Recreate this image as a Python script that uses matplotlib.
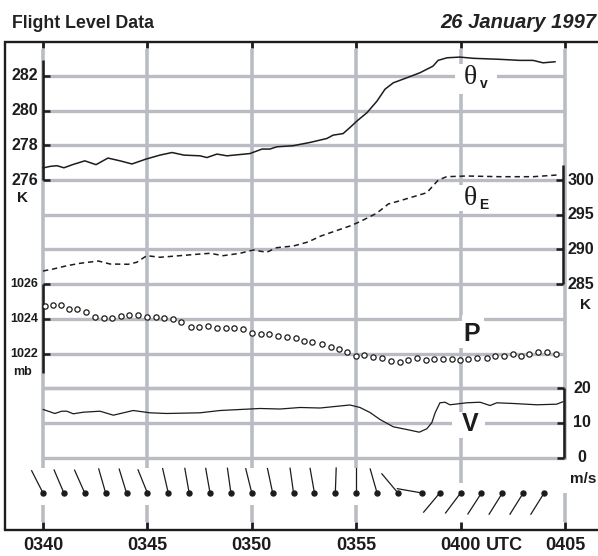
import numpy as np
import matplotlib
matplotlib.use("Agg")
import matplotlib.pyplot as plt
from matplotlib.patches import Rectangle

# ---------------------------------------------------------------- data (minutes after 0340 UTC)
tv_t = [0, 0.34, 0.67, 1.0, 1.44, 2.0, 2.54, 3.11, 3.69, 4.26, 4.93, 5.6, 6.18, 6.75, 7.52,
        7.85, 8.33, 8.81, 9.91, 10.49, 10.87, 11.2, 11.97, 12.79, 13.6, 13.89, 14.37, 14.7,
        15.04, 15.52, 16.0, 16.38, 16.78, 17.43, 18.06, 18.68, 18.92, 19.35, 19.97, 20.6,
        21.89, 22.85, 23.47, 23.95, 24.52]
theta_v = [276.70, 276.79, 276.83, 276.71, 276.90, 277.11, 276.89, 277.27, 277.11, 276.93,
           277.21, 277.44, 277.59, 277.44, 277.40, 277.30, 277.50, 277.40, 277.53, 277.79,
           277.79, 277.92, 277.98, 278.17, 278.40, 278.59, 278.68, 279.03, 279.41, 279.89,
           280.56, 281.24, 281.61, 281.90, 282.19, 282.57, 282.90, 283.05, 283.09, 283.02,
           282.96, 282.90, 282.90, 282.76, 282.82]

te_t = [0, 0.49, 1.14, 1.77, 2.65, 3.21, 4.08, 4.49, 4.97, 5.60, 6.56, 7.52, 8.0, 8.63, 9.43,
        10.07, 10.71, 11.19, 11.99, 12.71, 13.27, 13.9, 14.7, 15.18, 15.98, 16.54, 17.1,
        18.38, 18.93, 19.33, 20.29, 21.89, 23.48, 24.6]
theta_e = [286.90, 287.19, 287.66, 288.01, 288.34, 287.91, 287.87, 288.16, 289.11, 288.88,
           289.11, 289.35, 289.45, 289.11, 289.45, 289.93, 289.60, 290.26, 290.5, 291.1,
           291.9, 292.56, 293.39, 294.01, 295.22, 296.56, 297.03, 298.18, 300.01, 300.49,
           300.59, 300.49, 300.49, 300.73]

p_t = [0.10, 0.46, 0.85, 1.25, 1.64, 2.04, 2.49, 2.92, 3.32, 3.74, 4.13, 4.57, 5.0, 5.41,
       5.81, 6.21, 6.61, 7.09, 7.49, 7.92, 8.35, 8.75, 9.16, 9.56, 10.0, 10.43, 10.84, 11.26,
       11.68, 12.1, 12.51, 12.9, 13.35, 13.78, 14.18, 14.57, 14.99, 15.39, 15.82, 16.25,
       16.67, 17.1, 17.49, 17.9, 18.33, 18.74, 19.14, 19.57, 19.97, 20.37, 20.77, 21.25,
       21.65, 22.08, 22.49, 22.89, 23.29, 23.71, 24.14, 24.57]
pres = [1024.74, 1024.80, 1024.80, 1024.57, 1024.57, 1024.42, 1024.13, 1024.07, 1024.07,
        1024.18, 1024.22, 1024.22, 1024.13, 1024.13, 1024.07, 1023.98, 1023.80, 1023.52,
        1023.55, 1023.61, 1023.46, 1023.46, 1023.46, 1023.40, 1023.20, 1023.11, 1023.11,
        1023.03, 1022.97, 1022.92, 1022.74, 1022.65, 1022.55, 1022.40, 1022.25, 1022.07,
        1021.88, 1021.92, 1021.82, 1021.76, 1021.57, 1021.53, 1021.63, 1021.73, 1021.63,
        1021.69, 1021.69, 1021.67, 1021.63, 1021.69, 1021.73, 1021.76, 1021.86, 1021.86,
        1021.96, 1021.88, 1021.98, 1022.11, 1022.11, 1021.98]

v_t = [0.01, 0.57, 0.90, 1.14, 1.45, 1.93, 2.73, 3.37, 4.32, 5.12, 5.92, 7.52, 8.48, 9.43,
       10.39, 11.35, 12.31, 13.27, 14.22, 14.70, 15.18, 15.66, 16.14, 16.78, 17.42, 18.02,
       18.38, 18.62, 18.78, 19.01, 19.25, 19.49, 20.29, 20.93, 21.41, 21.73, 22.53, 23.65,
       24.60, 24.89]
speed = [13.89, 12.74, 13.40, 13.40, 12.65, 13.11, 13.40, 12.25, 13.60, 12.94, 12.74, 12.94,
         13.60, 13.89, 14.18, 14.03, 14.47, 14.32, 14.90, 15.19, 14.47, 13.03, 11.01, 8.90,
         8.13, 7.35, 8.33, 10.06, 12.94, 15.82, 15.99, 15.25, 15.82, 15.99, 15.04, 15.82,
         15.62, 15.25, 15.42, 16.11]

# wind direction (deg, from) once a minute
barb_t = [0, 1, 2, 3, 4, 5, 6, 7, 8, 9, 10, 11, 12, 13, 14, 15, 16, 17, 18.15, 19, 20, 21,
          22, 23, 24]
barb_dir = [333, 337, 336, 344, 343, 338, 347, 350, 350, 352, 346, 348, 352, 350, 2, 0, 344,
            320, 280, 220, 217, 213, 212, 212, 212]

time_ticks = [0, 5, 10, 15, 20, 25]
time_labels = ["0340", "0345", "0350", "0355", "0400", "0405"]
tv_ticks = [282, 280, 278, 276]
te_ticks = [300, 295, 290, 285]
p_ticks = [1026, 1024, 1022]
v_ticks = [20, 10, 0]

# ---------------------------------------------------------------- layout
W, H = 598, 556
PPM, PPG = 20.88, 34.7      # px per minute, px per grid row
X0, Y0 = 43, 76             # 0340 line, top grid row
GRAY = "#b9bdc3"
INK = "#1c1c1c"
SANS = "Liberation Sans"


def px(x):
    return (x - X0) / PPM


def py(y):
    return (y - Y0) / PPG


# value at grid row r0, step per row (one stacked panel each)
PANELS = {"tv": (282, 2, 0), "te": (300, 5, 3), "p": (1026, 2, 6), "v": (20, 10, 9)}


def row(key, val):
    vtop, step, r0 = PANELS[key]
    return r0 + (vtop - val) / step


fig = plt.figure(figsize=(W / 100, H / 100), dpi=100)
ax = fig.add_axes([0, 0, 1, 1])
ax.set_xlim(px(0), px(W))
ax.set_ylim(py(H), py(0))
ax.axis("off")

# ---------------------------------------------------------------- grid
rows = sorted({row("tv", v) for v in tv_ticks} | {row("te", v) for v in te_ticks}
              | {row("p", v) for v in p_ticks} | {row("v", v) for v in v_ticks})
for r in rows + [row("p", 1022) + 1]:
    ax.plot([0, 25], [r, r], color=GRAY, lw=2.4, solid_capstyle="butt", zorder=1)

vsegs = {0: [(49, 468), (505, 522)], 5: [(49, 468), (505, 522)], 10: [(49, 468), (505, 522)],
         15: [(49, 468), (505, 522)], 20: [(49, 483)], 25: [(49, 460), (493, 522)]}
for t in time_ticks:
    for a, b in vsegs[t]:
        ax.plot([t, t], [py(a), py(b)], color=GRAY, lw=2.6, solid_capstyle="butt", zorder=1)
    ax.plot([t, t], [py(42), py(48)], color=INK, lw=2, solid_capstyle="butt", zorder=4)
    ax.plot([t, t], [py(522), py(530)], color=INK, lw=2, solid_capstyle="butt", zorder=4)

# frame
ax.plot([px(598), px(4.5), px(4.5), px(598)], [py(42), py(42), py(530), py(530)],
        color=INK, lw=1.7, solid_joinstyle="miter", zorder=4)

# ---------------------------------------------------------------- label gaps (white)
for x0, x1, y0, y1 in [(455, 497, 64, 94), (456, 492, 185, 211), (457, 485, 321, 348),
                       (462, 484, 315, 323), (452, 485, 412, 438)]:
    ax.add_patch(Rectangle((px(x0), py(y0)), px(x1) - px(x0), py(y1) - py(y0),
                           facecolor="white", edgecolor="none", zorder=2))

# ---------------------------------------------------------------- panel axes lines + ticks
def spine(x, ya, yb, ticks, key, side):
    ax.plot([x, x], [ya, yb], color=INK, lw=1.8, solid_capstyle="butt", zorder=4)
    for v in ticks:
        r = row(key, v)
        ax.plot([x, x + side * 7 / PPM], [r, r], color=INK, lw=1.8,
                solid_capstyle="butt", zorder=4)


spine(0, py(60), row("tv", 276), tv_ticks, "tv", 1)
spine(px(563), py(165), row("te", 285), te_ticks, "te", -1)
spine(0, row("p", 1026), py(373), p_ticks, "p", 1)
spine(px(564), row("v", 20), row("v", 0), v_ticks, "v", -1)

tk = dict(color=INK, fontfamily=SANS, fontweight="bold", zorder=5)
for v in tv_ticks:
    ax.text(px(38), row("tv", v), str(v), ha="right", va="center", fontsize=11.5, **tk)
ax.text(px(23), py(198), "K", ha="center", va="center", fontsize=11, **tk)
for v in p_ticks:
    ax.text(px(38), row("p", v), str(v), ha="right", va="center", fontsize=9, **tk)
ax.text(px(23), py(372), "mb", ha="center", va="center", fontsize=9, **tk)
for v in te_ticks:
    ax.text(px(568), row("te", v), str(v), ha="left", va="center", fontsize=11.5, **tk)
ax.text(px(586), py(305), "K", ha="center", va="center", fontsize=11, **tk)
for v in v_ticks:
    ax.text(px(582), row("v", v), str(v), ha="center", va="center", fontsize=11.5, **tk)
ax.text(px(583), py(479), "m/s", ha="center", va="center", fontsize=11, **tk)

for t, lab in zip(time_ticks, time_labels):
    ax.text(t, py(546), lab, ha="center", va="center", fontsize=13, **tk)
ax.text(px(486), py(546), "UTC", ha="left", va="center", fontsize=13, **tk)

# series names
ax.text(px(470), py(78), "\u03b8", ha="center", va="center", fontsize=20,
        fontfamily="Liberation Serif", color=INK, zorder=5)
ax.text(px(480), py(84), "v", ha="left", va="center", fontsize=10, **tk)
ax.text(px(470), py(199), "\u03b8", ha="center", va="center", fontsize=20,
        fontfamily="Liberation Serif", color=INK, zorder=5)
ax.text(px(479), py(205), "E", ha="left", va="center", fontsize=10, **tk)
ax.text(px(472), py(334), "P", ha="center", va="center", fontsize=18, **tk)
ax.text(px(470), py(424), "V", ha="center", va="center", fontsize=18, **tk)

# ---------------------------------------------------------------- wind sticks
L = 25
by = py(493)
for t, d in zip(barb_t, barb_dir):
    r = np.radians(d)
    ax.plot([t, t + L * np.sin(r) / PPM], [by, by - L * np.cos(r) / PPG],
            color=INK, lw=0.9, zorder=5)
    ax.plot(t, by, "o", color=INK, ms=3.6, zorder=6)

# ---------------------------------------------------------------- data layers
def layer(key):
    vtop, step, r0 = PANELS[key]
    a = fig.add_axes([0, 0, 1, 1])
    a.set_xlim(ax.get_xlim())
    a.set_ylim(vtop - step * (py(H) - r0), vtop - step * (py(0) - r0))
    a.axis("off")
    a.patch.set_alpha(0)
    return a


layer("tv").plot(tv_t, theta_v, color=INK, lw=1.1)
layer("te").plot(te_t, theta_e, color=INK, lw=1.1, ls=(0, (3.5, 2.5)))
layer("p").plot(p_t, pres, "o", mfc="white", mec=INK, mew=0.9, ms=3.8)
layer("v").plot(v_t, speed, color=INK, lw=0.9)

# ---------------------------------------------------------------- titles
fig.text(12 / W, 1 - 28 / H, "Flight Level Data", ha="left", va="baseline",
         fontsize=12.8, fontweight="bold", fontfamily=SANS, color="#222222")
fig.text(596 / W, 1 - 28 / H, "26 January 1997", ha="right", va="baseline",
         fontsize=14.5, fontweight="bold", fontstyle="italic", fontfamily=SANS, color="#222222")

fig.savefig("out.png", dpi=100)
